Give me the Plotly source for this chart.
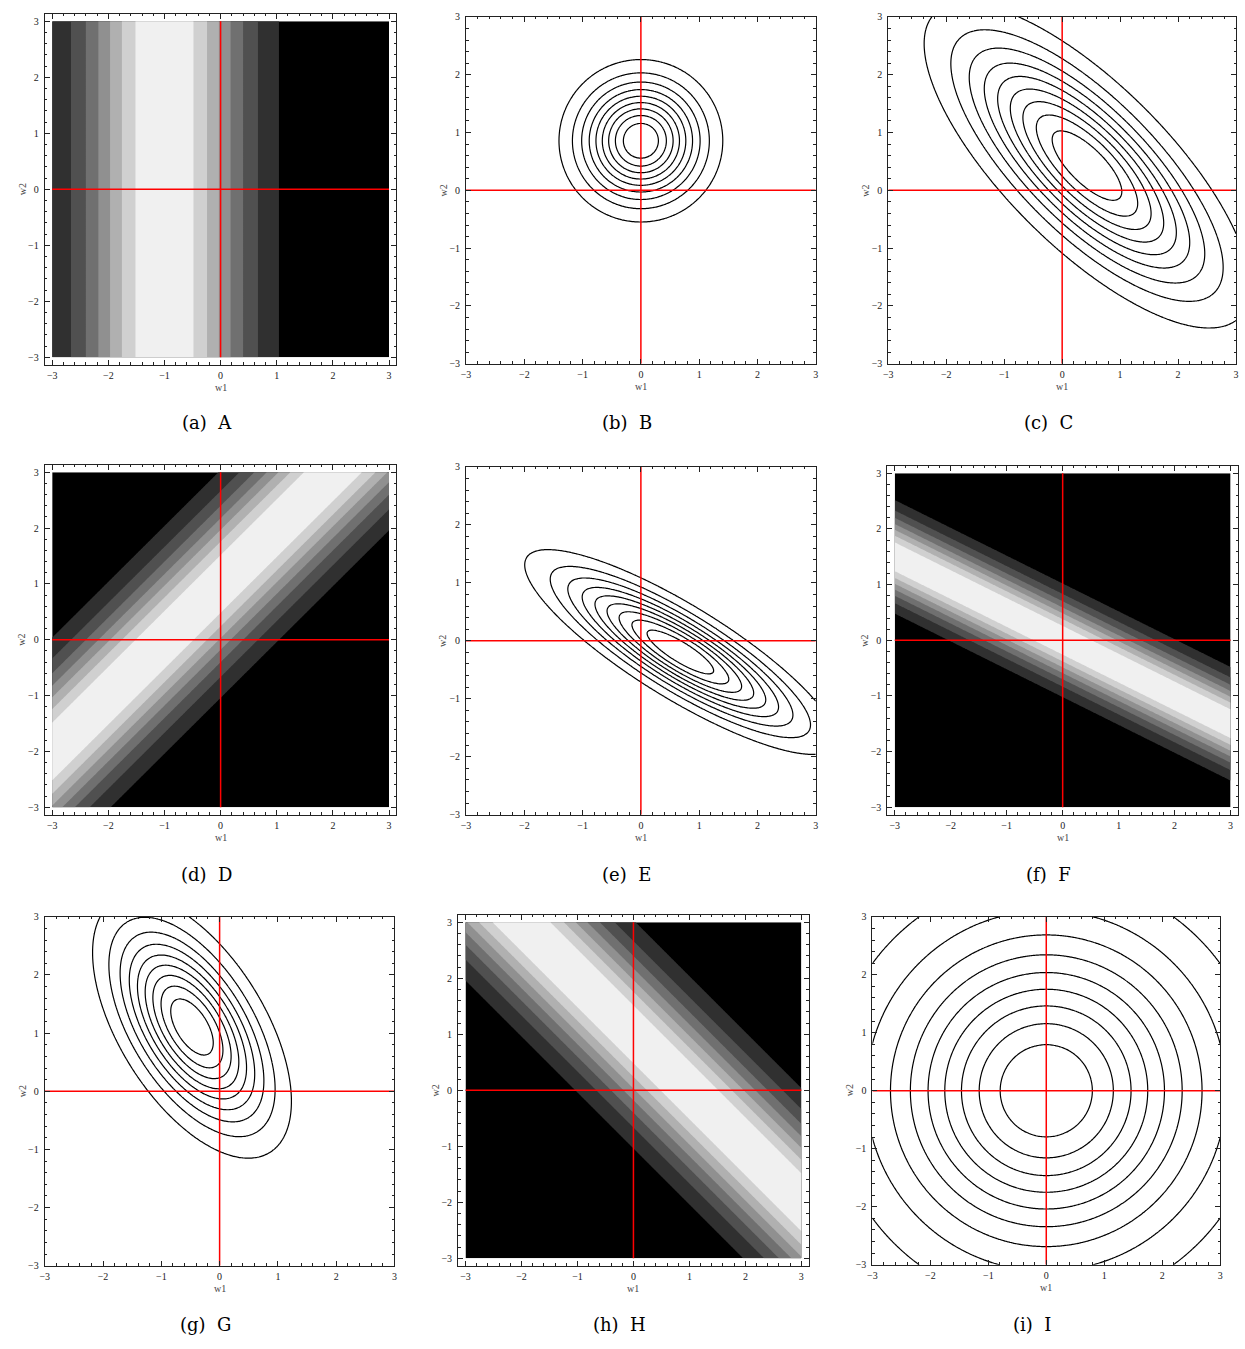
import numpy as np
import plotly.graph_objects as go

# ---------------- data ----------------
panel_letters = ["A", "B", "C", "D", "E", "F", "G", "H", "I"]
panel_kinds = ["band", "post", "post", "band", "post", "band", "post", "band", "post"]
captions = ["(a)  A", "(b)  B", "(c)  C", "(d)  D", "(e)  E", "(f)  F", "(g)  G", "(h)  H", "(i)  I"]

# single observations (x, t) whose likelihood is shown as a band  t ~ N(w1 + w2*x, 1/beta)
obs_x = {"A": 0.0, "D": -1.0, "F": 2.0, "H": 1.0}
obs_t = {"A": -1.0, "D": -1.0, "F": 0.0, "H": 1.0}
# which observations each Gaussian (posterior) panel has absorbed
post_obs = {"B": ["D", "H"], "C": ["H"], "E": ["H", "F"], "G": ["A", "H"], "I": []}
prior_var = 3.0
noise_prec = 1.0

band_levels = [0.125, 0.875, 0.125]          # start, end, step (fraction of peak)
band_grays = [0, 48, 80, 112, 144, 176, 208, 240]
post_levels = [0.1, 0.9, 0.1]

tick_vals = [-3, -2, -1, 0, 1, 2, 3]
tick_text = ["\u22123", "\u22122", "\u22121", "0", "1", "2", "3"]

# ---------------- layout geometry (pixels) ----------------
W, H = 1245, 1349
frames = {  # x0, x1, y0, y1 of each frame
    "A": (40, 394, 8, 362), "B": (464, 816, 11, 361), "C": (889, 1239, 11, 361),
    "D": (40, 394, 463, 816), "E": (464, 816, 465, 816), "F": (888, 1241, 464, 816),
    "G": (40, 392, 919, 1271), "H": (456, 809, 917, 1271), "I": (873, 1223, 919, 1270),
}
caption_y = {0: 420, 1: 876, 2: 1330}

grid = np.linspace(-3, 3, 241)
W1, W2 = np.meshgrid(grid, grid)

fig = go.Figure()
layout = dict(width=W, height=H, margin=dict(l=0, r=0, t=0, b=0),
              paper_bgcolor="white", plot_bgcolor="white", showlegend=False)
annotations = []

gray_scale = [[k / (len(band_grays) - 1), "rgb(%d,%d,%d)" % (g, g, g)] for k, g in enumerate(band_grays)]

for i, letter in enumerate(panel_letters):
    ax = "" if i == 0 else str(i + 1)
    xref, yref = "x" + ax, "y" + ax
    x0, x1, y0, y1 = frames[letter]
    kind = panel_kinds[i]

    if kind == "band":
        x = obs_x[letter]
        t = obs_t[letter]
        Z = np.exp(-0.5 * noise_prec * (t - W1 - W2 * x) ** 2)
        fig.add_trace(go.Contour(
            x=grid, y=grid, z=Z, xaxis=xref, yaxis=yref,
            contours=dict(start=band_levels[0], end=band_levels[1], size=band_levels[2], coloring="fill"),
            colorscale=gray_scale, line=dict(width=0), showscale=False, hoverinfo="skip"))
        pad = 6.0 * ((x1 - x0) / ((x1 - x0) - 15.0)) / 2.0
        rng = [-pad, pad]
    else:
        S_inv = np.eye(2) / prior_var
        b = np.zeros(2)
        for o in post_obs[letter]:
            phi = np.array([1.0, obs_x[o]])
            S_inv = S_inv + noise_prec * np.outer(phi, phi)
            b = b + noise_prec * phi * obs_t[o]
        m = np.linalg.solve(S_inv, b)
        d1, d2 = W1 - m[0], W2 - m[1]
        Q = S_inv[0, 0] * d1 ** 2 + 2 * S_inv[0, 1] * d1 * d2 + S_inv[1, 1] * d2 ** 2
        Z = np.exp(-0.5 * Q)
        fig.add_trace(go.Contour(
            x=grid, y=grid, z=Z, xaxis=xref, yaxis=yref,
            contours=dict(start=post_levels[0], end=post_levels[1], size=post_levels[2], coloring="none"),
            line=dict(color="black", width=1.2), showscale=False, hoverinfo="skip"))
        rng = [-3, 3]

    # red axes lines
    fig.add_trace(go.Scatter(x=[-3, 3], y=[0, 0], mode="lines", xaxis=xref, yaxis=yref,
                             line=dict(color="red", width=1.5), hoverinfo="skip"))
    fig.add_trace(go.Scatter(x=[0, 0], y=[-3, 3], mode="lines", xaxis=xref, yaxis=yref,
                             line=dict(color="red", width=1.5), hoverinfo="skip"))

    common = dict(range=rng, showgrid=False, zeroline=False, showline=True, linecolor="#222",
                  linewidth=1, mirror="allticks", ticks="inside", ticklen=5, tickcolor="#222",
                  tickvals=tick_vals, ticktext=tick_text,
                  tickfont=dict(family="Liberation Serif", size=10, color="#222"),
                  minor=dict(ticks="inside", ticklen=2.5, dtick=0.2, tick0=0, tickcolor="#222"),
                  fixedrange=True)
    layout["xaxis" + ax] = dict(common, domain=[x0 / W, x1 / W], anchor=yref, ticklabelstandoff=1)
    layout["yaxis" + ax] = dict(common, domain=[1 - y1 / H, 1 - y0 / H], anchor=xref, ticklabelstandoff=3)

    row = i // 3
    cx = (x0 + x1) / 2
    annotations.append(dict(text="w1", x=cx / W, y=1 - (y1 + 23) / H, xref="paper", yref="paper",
                            showarrow=False, font=dict(family="Liberation Serif", size=10, color="#444"),
                            xanchor="center", yanchor="middle"))
    annotations.append(dict(text="w2", x=(x0 - 23) / W, y=1 - ((y0 + y1) / 2) / H, xref="paper", yref="paper",
                            showarrow=False, textangle=-90,
                            font=dict(family="Liberation Serif", size=10, color="#444"),
                            xanchor="center", yanchor="middle"))
    annotations.append(dict(text=captions[i], x=(cx - 14) / W, y=1 - caption_y[row] / H,
                            xref="paper", yref="paper", showarrow=False,
                            font=dict(family="DejaVu Serif", size=18, color="black"),
                            xanchor="center", yanchor="middle"))

layout["annotations"] = annotations
fig.update_layout(**layout)

fig.write_html("out.html", config={"displayModeBar": False},
               post_script="document.body.style.margin='0px';")
